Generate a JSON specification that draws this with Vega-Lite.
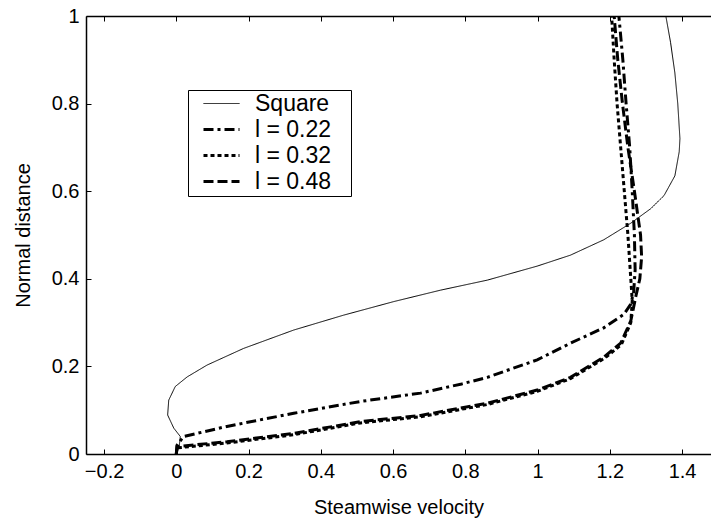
{
  "$schema": "https://vega.github.io/schema/vega-lite/v6.json",
  "width": 625,
  "height": 438,
  "autosize": {"type": "none"},
  "padding": {"left": 86, "top": 16, "right": 0, "bottom": 67},
  "background": "white",
  "config": {
    "view": {"stroke": null},
    "font": "Liberation Sans",
    "axis": {"domainColor": "black", "domainWidth": 1.5, "tickColor": "black", "tickWidth": 1, "labelColor": "black", "titleColor": "black", "labelFontSize": 20, "titleFontSize": 20, "titleFontWeight": "normal", "grid": false, "format": "~g"}
  },
  "data": {"values": [
    {"s": "Square", "v": 0.0, "d": 0.0},
    {"s": "Square", "v": 0.008, "d": 0.017},
    {"s": "Square", "v": 0.011, "d": 0.04},
    {"s": "Square", "v": -0.007, "d": 0.059},
    {"s": "Square", "v": -0.024, "d": 0.089},
    {"s": "Square", "v": -0.021, "d": 0.123},
    {"s": "Square", "v": -0.003, "d": 0.154},
    {"s": "Square", "v": 0.03, "d": 0.176},
    {"s": "Square", "v": 0.085, "d": 0.203},
    {"s": "Square", "v": 0.186, "d": 0.241},
    {"s": "Square", "v": 0.325, "d": 0.283},
    {"s": "Square", "v": 0.463, "d": 0.317},
    {"s": "Square", "v": 0.602, "d": 0.348},
    {"s": "Square", "v": 0.731, "d": 0.374},
    {"s": "Square", "v": 0.861, "d": 0.397},
    {"s": "Square", "v": 0.999, "d": 0.429},
    {"s": "Square", "v": 1.091, "d": 0.454},
    {"s": "Square", "v": 1.183, "d": 0.489},
    {"s": "Square", "v": 1.258, "d": 0.527},
    {"s": "Square", "v": 1.313, "d": 0.56},
    {"s": "Square", "v": 1.35, "d": 0.59},
    {"s": "Square", "v": 1.38, "d": 0.635},
    {"s": "Square", "v": 1.392, "d": 0.69},
    {"s": "Square", "v": 1.394, "d": 0.72},
    {"s": "Square", "v": 1.388, "d": 0.8},
    {"s": "Square", "v": 1.38, "d": 0.87},
    {"s": "Square", "v": 1.368, "d": 0.94},
    {"s": "Square", "v": 1.355, "d": 1.0},

    {"s": "l = 0.22", "v": 0.0, "d": 0.0},
    {"s": "l = 0.22", "v": 0.002, "d": 0.02},
    {"s": "l = 0.22", "v": 0.02, "d": 0.04},
    {"s": "l = 0.22", "v": 0.14, "d": 0.063},
    {"s": "l = 0.22", "v": 0.325, "d": 0.093},
    {"s": "l = 0.22", "v": 0.51, "d": 0.12},
    {"s": "l = 0.22", "v": 0.676, "d": 0.139},
    {"s": "l = 0.22", "v": 0.79, "d": 0.16},
    {"s": "l = 0.22", "v": 0.861, "d": 0.175},
    {"s": "l = 0.22", "v": 0.999, "d": 0.215},
    {"s": "l = 0.22", "v": 1.091, "d": 0.253},
    {"s": "l = 0.22", "v": 1.183, "d": 0.288},
    {"s": "l = 0.22", "v": 1.239, "d": 0.319},
    {"s": "l = 0.22", "v": 1.258, "d": 0.342},
    {"s": "l = 0.22", "v": 1.266, "d": 0.37},
    {"s": "l = 0.22", "v": 1.27, "d": 0.42},
    {"s": "l = 0.22", "v": 1.268, "d": 0.5},
    {"s": "l = 0.22", "v": 1.262, "d": 0.6},
    {"s": "l = 0.22", "v": 1.255, "d": 0.7},
    {"s": "l = 0.22", "v": 1.245, "d": 0.8},
    {"s": "l = 0.22", "v": 1.236, "d": 0.9},
    {"s": "l = 0.22", "v": 1.225, "d": 1.0},

    {"s": "l = 0.32", "v": 0.0, "d": 0.0},
    {"s": "l = 0.32", "v": 0.002, "d": 0.014},
    {"s": "l = 0.32", "v": 0.14, "d": 0.025},
    {"s": "l = 0.32", "v": 0.325, "d": 0.044},
    {"s": "l = 0.32", "v": 0.51, "d": 0.071},
    {"s": "l = 0.32", "v": 0.676, "d": 0.085},
    {"s": "l = 0.32", "v": 0.861, "d": 0.113},
    {"s": "l = 0.32", "v": 0.999, "d": 0.143},
    {"s": "l = 0.32", "v": 1.091, "d": 0.172},
    {"s": "l = 0.32", "v": 1.188, "d": 0.22},
    {"s": "l = 0.32", "v": 1.232, "d": 0.25},
    {"s": "l = 0.32", "v": 1.258, "d": 0.3},
    {"s": "l = 0.32", "v": 1.262, "d": 0.35},
    {"s": "l = 0.32", "v": 1.258, "d": 0.4},
    {"s": "l = 0.32", "v": 1.25, "d": 0.5},
    {"s": "l = 0.32", "v": 1.24, "d": 0.6},
    {"s": "l = 0.32", "v": 1.23, "d": 0.7},
    {"s": "l = 0.32", "v": 1.22, "d": 0.8},
    {"s": "l = 0.32", "v": 1.212, "d": 0.9},
    {"s": "l = 0.32", "v": 1.205, "d": 1.0},

    {"s": "l = 0.48", "v": 0.0, "d": 0.0},
    {"s": "l = 0.48", "v": 0.002, "d": 0.017},
    {"s": "l = 0.48", "v": 0.14, "d": 0.028},
    {"s": "l = 0.48", "v": 0.325, "d": 0.047},
    {"s": "l = 0.48", "v": 0.51, "d": 0.074},
    {"s": "l = 0.48", "v": 0.676, "d": 0.088},
    {"s": "l = 0.48", "v": 0.861, "d": 0.116},
    {"s": "l = 0.48", "v": 0.999, "d": 0.146},
    {"s": "l = 0.48", "v": 1.091, "d": 0.175},
    {"s": "l = 0.48", "v": 1.183, "d": 0.221},
    {"s": "l = 0.48", "v": 1.23, "d": 0.253},
    {"s": "l = 0.48", "v": 1.258, "d": 0.304},
    {"s": "l = 0.48", "v": 1.272, "d": 0.36},
    {"s": "l = 0.48", "v": 1.283, "d": 0.4},
    {"s": "l = 0.48", "v": 1.288, "d": 0.45},
    {"s": "l = 0.48", "v": 1.285, "d": 0.5},
    {"s": "l = 0.48", "v": 1.268, "d": 0.6},
    {"s": "l = 0.48", "v": 1.25, "d": 0.7},
    {"s": "l = 0.48", "v": 1.235, "d": 0.8},
    {"s": "l = 0.48", "v": 1.222, "d": 0.9},
    {"s": "l = 0.48", "v": 1.212, "d": 1.0}
  ]},
  "layer": [
    {
      "mark": {"type": "line", "color": "black", "clip": true},
      "encoding": {
        "x": {"field": "v", "type": "quantitative", "scale": {"domain": [-0.25, 1.48], "nice": false, "zero": false},
              "axis": {"orient": "bottom", "values": [-0.2, 0, 0.2, 0.4, 0.6, 0.8, 1, 1.2, 1.4], "tickSize": -5, "labelPadding": 12, "title": "Steamwise velocity", "titlePadding": 16, "labelFlush": false}},
        "y": {"field": "d", "type": "quantitative", "scale": {"domain": [0, 1], "nice": false},
              "axis": {"values": [0, 0.2, 0.4, 0.6, 0.8, 1], "tickSize": -5, "labelPadding": 12, "title": "Normal distance", "titlePadding": 18, "labelFlush": false}},
        "order": {"field": "d", "type": "quantitative"},
        "strokeDash": {"field": "s", "type": "nominal",
          "scale": {"domain": ["Square", "l = 0.22", "l = 0.32", "l = 0.48"], "range": [[1, 0], [10, 4, 3, 4], [4, 3], [10, 4]]},
          "legend": {"orient": "none", "legendX": 102, "legendY": 74, "title": null, "strokeColor": "black", "fillColor": "white",
                     "padding": 2, "symbolOffset": 20, "symbolType": "M-2,0H2", "symbolSize": 324, "symbolStrokeColor": "black",
                     "labelFontSize": 23, "labelColor": "black", "labelOffset": 22, "rowPadding": 2,
                     "labelExpr": "datum.label + '\u2800'"}},
        "strokeWidth": {"field": "s", "type": "nominal",
          "scale": {"type": "ordinal", "domain": ["Square", "l = 0.22", "l = 0.32", "l = 0.48"], "range": [1, 3, 3, 3]},
          "legend": {"orient": "none", "legendX": 102, "legendY": 74, "title": null}}
      }
    },
    {
      "mark": {"type": "point", "opacity": 0},
      "encoding": {
        "x": {"field": "v", "type": "quantitative",
              "axis": {"orient": "top", "values": [-0.2, 0, 0.2, 0.4, 0.6, 0.8, 1, 1.2, 1.4], "tickSize": -5, "labels": false, "title": null}}
      }
    }
  ],
  "resolve": {"axis": {"x": "independent"}}
}
